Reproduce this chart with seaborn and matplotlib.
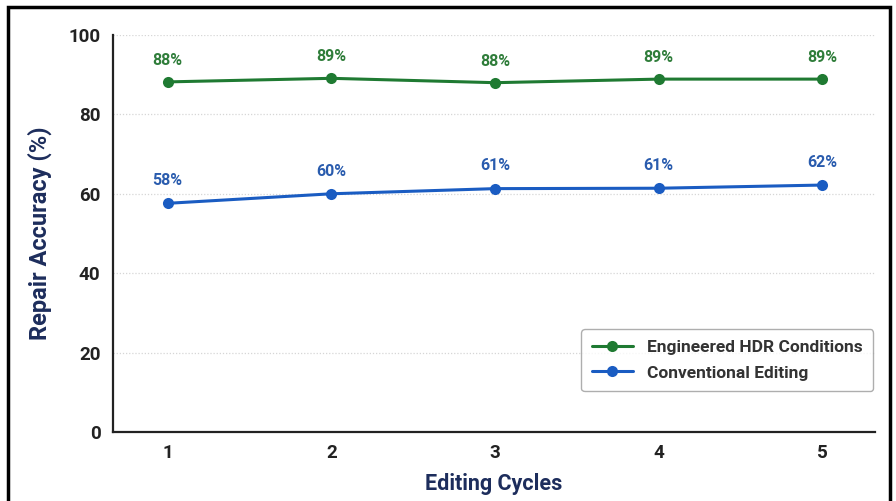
import matplotlib
matplotlib.use("Agg")
import matplotlib.pyplot as plt
from matplotlib.patches import Rectangle
import pandas as pd
import seaborn as sns

# Repair accuracy per editing cycle
cycles = [1, 2, 3, 4, 5]
hdr_values = [88.2, 89.1, 88.0, 88.9, 88.9]
conventional_values = [57.6, 60.0, 61.3, 61.4, 62.2]
series_names = ["Engineered HDR Conditions", "Conventional Editing"]
y_ticks = [0, 20, 40, 60, 80, 100]

green = "#1f7a32"
blue = "#1a5cc2"
navy = "#1d2d5c"

df = pd.DataFrame({
    "cycle": cycles * 2,
    "accuracy": hdr_values + conventional_values,
    "series": [series_names[0]] * len(cycles) + [series_names[1]] * len(cycles),
})

sns.set_theme(style="white")
plt.rcParams["font.family"] = ["Roboto", "DejaVu Sans"]

fig = plt.figure(figsize=(8.96, 5.01), dpi=100)
ax = fig.add_axes([0.126, 0.138, 0.851, 0.792])

sns.lineplot(
    data=df, x="cycle", y="accuracy", hue="series",
    palette={series_names[0]: green, series_names[1]: blue},
    marker="o", markersize=8, markeredgewidth=0, linewidth=2.2, ax=ax,
)

# value labels above each point
for vals, col, off in [(hdr_values, "#2f7d3a", 10), (conventional_values, "#2a5cae", 11)]:
    for x, v in zip(cycles, vals):
        ax.annotate(f"{v:.0f}%", (x, v), xytext=(0, off), textcoords="offset points",
                    ha="center", va="bottom", fontsize=11.5, fontweight="bold", color=col)

ax.set_xlim(0.665, 5.325)
ax.set_ylim(0, 100)
ax.set_xticks(cycles)
ax.set_yticks(y_ticks)
ax.tick_params(axis="both", direction="out", length=4, width=1, color="#222222",
               labelsize=13.5, labelcolor="#222222", pad=5)
for lab in ax.get_xticklabels() + ax.get_yticklabels():
    lab.set_fontweight("bold")

for y in y_ticks[1:]:
    ax.axhline(y, color="#d6d6d6", linestyle=(0, (1, 1.5)), linewidth=0.9, zorder=0)

for side in ["top", "right"]:
    ax.spines[side].set_visible(False)
for side in ["left", "bottom"]:
    ax.spines[side].set_color("#222222")
    ax.spines[side].set_linewidth(1.6)

ax.set_xlabel("Editing Cycles", fontsize=15.5, fontweight="bold", color=navy, labelpad=8)
ax.set_ylabel("Repair Accuracy (%)", fontsize=17, fontweight="bold", color=navy, labelpad=12)

leg = ax.legend(loc="lower right", bbox_to_anchor=(0.997, 0.103), borderaxespad=0,
                frameon=True, fontsize=12.5, handlelength=2.4, borderpad=0.6,
                labelspacing=0.6, fancybox=True)
leg.get_frame().set_edgecolor("#9a9a9a")
leg.get_frame().set_linewidth(1.0)
for t in leg.get_texts():
    t.set_fontweight("bold")
    t.set_color("#333333")

# outer frame
fig.patches.append(Rectangle((8 / 896, -0.05), 882 / 896, 1.05 - 7 / 501,
                             transform=fig.transFigure, fill=False,
                             edgecolor="black", linewidth=2.5))

fig.savefig("out.png", dpi=100)
